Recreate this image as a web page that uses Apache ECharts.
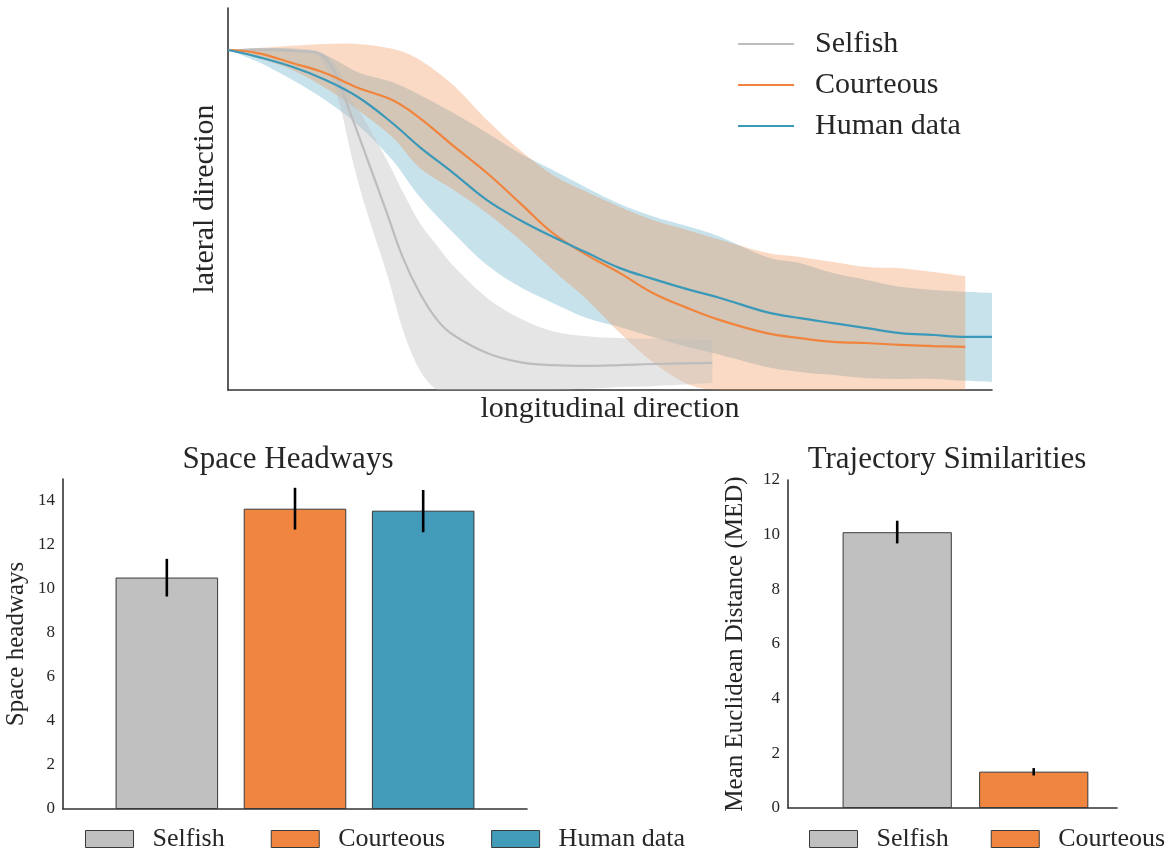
<!DOCTYPE html>
<html>
<head>
<meta charset="utf-8">
<title>Lane-change trajectories, space headways and trajectory similarities</title>
<script src="https://cdn.jsdelivr.net/npm/echarts@6/dist/echarts.min.js"></script>
<style>
  html, body { margin: 0; padding: 0; background: #ffffff; }
  #chart { width: 1169px; height: 854px; }
</style>
</head>
<body>
<div id="chart"></div>
<script>
// Driver types shown in every panel
const seriesNames = ['Selfish', 'Courteous', 'Human data'];

// Mean lateral offset (0-100) along the longitudinal position (0-100), with upper / lower spread
const selfishX     = [0, 5.5, 9.4, 11.8, 13.6, 14.9, 16.2, 17.9, 20.8, 22.9, 25.1, 27.4, 29.5, 33.9, 38.2, 42.5, 47.0, 51.3, 55.6, 63.4];
const selfishMean  = [89.0, 89.0, 88.7, 88.2, 84.6, 78.5, 71.5, 62.3, 46.3, 34.6, 25.4, 18.3, 14.4, 9.7, 7.3, 6.5, 6.3, 6.5, 6.8, 7.1];
const selfishUpper = [89.0, 89.5, 89.3, 88.7, 86.4, 81.9, 76.2, 70.7, 60.2, 51.8, 43.7, 37.7, 32.5, 24.1, 18.8, 15.4, 14.1, 13.6, 13.4, 13.1];
const selfishLower = [89.0, 88.7, 88.2, 87.2, 81.2, 72.5, 61.0, 48.4, 30.4, 15.7, 5.2, -1.3, -3.1, -2.6, -1.8, -0.5, 0.3, 0.8, 1.0, 1.8];

const courteousX     = [0, 3.9, 8.4, 12.7, 17.0, 21.5, 25.1, 29.5, 33.9, 38.2, 42.5, 47.0, 51.3, 55.6, 60.1, 64.4, 70.5, 74.9, 79.2, 83.6, 88.0, 92.3, 96.5];
const courteousMean  = [89.0, 88.2, 85.6, 83.0, 79.1, 75.9, 71.2, 63.9, 56.8, 49.0, 41.1, 35.3, 30.6, 25.4, 21.5, 18.3, 14.9, 13.6, 12.6, 12.3, 11.8, 11.5, 11.3];
const courteousUpper = [89.0, 89.5, 90.1, 90.6, 90.6, 89.3, 86.4, 79.8, 70.7, 62.8, 56.3, 51.8, 47.9, 44.5, 41.9, 39.3, 35.9, 34.8, 33.5, 32.2, 31.9, 30.9, 29.8];
const courteousLower = [89.0, 86.9, 83.8, 79.1, 73.3, 66.2, 58.1, 52.4, 46.3, 39.3, 31.4, 23.6, 14.9, 7.3, 1.6, -2.6, -6.0, -7.6, -8.4, -8.0, -8.4, -7.9, -7.3];

const humanX     = [0, 3.9, 8.4, 12.7, 17.0, 21.5, 25.1, 29.5, 33.9, 38.2, 42.5, 47.0, 51.3, 55.6, 60.1, 64.4, 70.5, 74.9, 79.2, 83.6, 88.0, 92.3, 96.5, 100];
const humanMean  = [89.0, 87.2, 84.6, 81.2, 76.7, 69.9, 63.6, 56.8, 49.7, 44.5, 40.1, 35.9, 31.9, 29.1, 26.4, 24.1, 20.4, 18.8, 17.5, 16.2, 14.9, 14.4, 13.9, 13.9];
const humanUpper = [89.0, 89.5, 89.3, 87.7, 83.2, 80.6, 77.2, 72.5, 67.3, 62.0, 57.6, 52.9, 48.7, 45.5, 42.9, 40.1, 34.8, 33.2, 30.6, 28.8, 27.0, 26.2, 25.7, 25.4];
const humanLower = [89.0, 85.9, 81.2, 75.9, 69.4, 60.2, 50.5, 41.1, 32.7, 27.0, 22.8, 18.8, 16.5, 13.9, 11.3, 9.2, 6.0, 4.7, 3.9, 3.1, 2.9, 2.9, 2.4, 2.1];

// Space headways: mean and error-bar ends per driver type
const headwayMean = [10.52, 13.65, 13.56];
const headwayLow  = [9.66, 12.70, 12.58];
const headwayHigh = [11.37, 14.60, 14.50];

// Mean Euclidean distance to the human trajectories
const medNames = ['Selfish', 'Courteous'];
const medMean  = [10.09, 1.33];
const medLow   = [9.68, 1.19];
const medHigh  = [10.51, 1.46];

const LAT_MIN = 0, LAT_MAX = 100, LON_MIN = 0, LON_MAX = 100;

const FONT = 'Liberation Serif';
const INK = '#262626';
const AXIS = '#333333';
const lineColors = ['#bdbdbd', '#f0843c', '#3a98b9'];
const bandColors = ['rgba(190,190,190,0.40)', 'rgba(240,132,60,0.30)', 'rgba(58,152,185,0.28)'];
const barColors = ['#c0c0c0', '#f0853f', '#429cb9'];

function pairs(xs, ys) {
  return xs.map((x, i) => [x, ys[i]]);
}

// Catmull-Rom curve through pixel points, control points kept above the axis floor
function curveThrough(pts, floorY) {
  let d = '';
  for (let i = 0; i < pts.length - 1; i++) {
    const p0 = pts[Math.max(i - 1, 0)], p1 = pts[i], p2 = pts[i + 1], p3 = pts[Math.min(i + 2, pts.length - 1)];
    const c1x = p1[0] + (p2[0] - p0[0]) / 6, c1y = Math.min(p1[1] + (p2[1] - p0[1]) / 6, floorY);
    const c2x = p2[0] - (p3[0] - p1[0]) / 6, c2y = Math.min(p2[1] - (p3[1] - p1[1]) / 6, floorY);
    d += ' C' + c1x + ' ' + c1y + ' ' + c2x + ' ' + c2y + ' ' + p2[0] + ' ' + p2[1];
  }
  return d;
}

// Filled spread between the upper and lower bound, cut at the bottom of the axis
function bandRenderer(xs, upper, lower, fill) {
  return function (params, api) {
    const floorY = api.coord([LON_MIN, LAT_MIN])[1];
    const top = xs.map((x, i) => api.coord([x, upper[i]]));
    const bottom = xs.map((x, i) => api.coord([x, Math.max(lower[i], LAT_MIN)])).reverse();
    const d = 'M' + top[0][0] + ' ' + top[0][1] + curveThrough(top, floorY) +
      ' L' + bottom[0][0] + ' ' + bottom[0][1] + curveThrough(bottom, floorY) + ' Z';
    return { type: 'path', shape: { pathData: d }, style: { fill: fill }, silent: true };
  };
}

function errorBarRenderer(params, api) {
  const a = api.coord([api.value(0), api.value(1)]);
  const b = api.coord([api.value(0), api.value(2)]);
  return {
    type: 'line',
    shape: { x1: a[0], y1: a[1], x2: b[0], y2: b[1] },
    style: { stroke: '#000000', lineWidth: 2.6 },
    silent: true
  };
}

const axisLine = { show: true, onZero: false, lineStyle: { color: AXIS, width: 1.6 } };

function bareAxis(gridIndex, min, max) {
  return {
    type: 'value', gridIndex, min, max,
    axisLine, axisTick: { show: false }, axisLabel: { show: false }, splitLine: { show: false }
  };
}

function countAxis(gridIndex, max, name, nameGap, showMax) {
  return {
    type: 'value', gridIndex, min: 0, max, interval: 2,
    name, nameLocation: 'middle', nameGap, nameRotate: 90,
    nameTextStyle: { fontFamily: FONT, fontSize: 25, color: INK },
    axisLine, axisTick: { show: false }, splitLine: { show: false },
    axisLabel: { fontFamily: FONT, fontSize: 17, color: INK, margin: 8, showMaxLabel: showMax }
  };
}

const topX = bareAxis(0, LON_MIN, LON_MAX);
topX.name = 'longitudinal direction';
topX.nameLocation = 'middle';
topX.nameGap = 4;
topX.nameTextStyle = { fontFamily: FONT, fontSize: 30, color: INK, verticalAlign: 'top' };

const topY = bareAxis(0, LAT_MIN, LAT_MAX);
topY.name = 'lateral direction';
topY.nameLocation = 'middle';
topY.nameGap = 8;
topY.nameRotate = 90;
topY.nameTextStyle = { fontFamily: FONT, fontSize: 30, color: INK };

const trajectories = [
  { xs: selfishX, mean: selfishMean, upper: selfishUpper, lower: selfishLower },
  { xs: courteousX, mean: courteousMean, upper: courteousUpper, lower: courteousLower },
  { xs: humanX, mean: humanMean, upper: humanUpper, lower: humanLower }
];

const series = [];

// spreads: human first, courteous over it, selfish on top
[2, 1, 0].forEach(k => {
  const t = trajectories[k];
  series.push({
    name: seriesNames[k] + ' spread',
    type: 'custom', coordinateSystem: 'cartesian2d', xAxisIndex: 0, yAxisIndex: 0,
    data: [[LON_MIN, LAT_MIN]],
    renderItem: bandRenderer(t.xs, t.upper, t.lower, bandColors[k]),
    z: 1
  });
});

trajectories.forEach((t, k) => {
  series.push({
    name: seriesNames[k], type: 'line', xAxisIndex: 0, yAxisIndex: 0,
    data: pairs(t.xs, t.mean), smooth: 0.4, symbol: 'none', showSymbol: false,
    lineStyle: { color: lineColors[k], width: 2.2 }, itemStyle: { color: lineColors[k] },
    z: 3
  });
});

seriesNames.forEach((name, i) => {
  series.push({
    name, type: 'bar', xAxisIndex: 1, yAxisIndex: 1,
    data: [[i, headwayMean[i]]], barWidth: '80%', barGap: '-100%',
    itemStyle: { color: barColors[i], borderColor: '#3a3a3a', borderWidth: 1 }
  });
});
series.push({
  name: 'headway error', type: 'custom', coordinateSystem: 'cartesian2d', xAxisIndex: 1, yAxisIndex: 1,
  data: headwayLow.map((lo, i) => [i, lo, headwayHigh[i]]), encode: { x: 0, y: [1, 2] },
  renderItem: errorBarRenderer, z: 5
});

medNames.forEach((name, i) => {
  series.push({
    name, type: 'bar', xAxisIndex: 2, yAxisIndex: 2,
    data: [[i, medMean[i]]], barWidth: '80%', barGap: '-100%',
    itemStyle: { color: barColors[i], borderColor: '#3a3a3a', borderWidth: 1 }
  });
});
series.push({
  name: 'distance error', type: 'custom', coordinateSystem: 'cartesian2d', xAxisIndex: 2, yAxisIndex: 2,
  data: medLow.map((lo, i) => [i, lo, medHigh[i]]), encode: { x: 0, y: [1, 2] },
  renderItem: errorBarRenderer, z: 5
});

function boxLegend(names, left, gap) {
  return {
    left, top: 826, orient: 'horizontal', padding: 0, itemGap: gap,
    itemWidth: 48, itemHeight: 17, selectedMode: false,
    textStyle: { fontFamily: FONT, fontSize: 26, color: INK, padding: [0, 0, 0, 14] },
    data: names.map((n, i) => ({
      name: n, icon: 'rect',
      itemStyle: { color: barColors[i], borderColor: '#3a3a3a', borderWidth: 1 }
    }))
  };
}

const option = {
  animation: false,
  backgroundColor: '#ffffff',
  textStyle: { fontFamily: FONT, color: INK },
  grid: [
    { left: 228, top: 8, width: 764, height: 382, outerBoundsMode: 'none' },
    { left: 63, top: 479, width: 464, height: 330, outerBoundsMode: 'none' },
    { left: 788, top: 480, width: 329, height: 328, outerBoundsMode: 'none' }
  ],
  xAxis: [
    topX,
    bareAxis(1, -0.81, 2.81),
    bareAxis(2, -0.80, 1.61)
  ],
  yAxis: [
    topY,
    countAxis(1, 15, 'Space headways', 34, false),
    countAxis(2, 12, 'Mean Euclidean Distance (MED)', 40, true)
  ],
  legend: [
    {
      left: 738, top: 29, orient: 'vertical', padding: 0, itemGap: 11,
      itemWidth: 56, itemHeight: 2.2, selectedMode: false,
      textStyle: { fontFamily: FONT, fontSize: 30, color: INK, padding: [0, 0, 0, 16] },
      data: seriesNames.map((n, i) => ({
        name: n, icon: 'rect', itemStyle: { color: lineColors[i], borderWidth: 0 }
      }))
    },
    boxLegend(seriesNames, 85, 46),
    boxLegend(medNames, 809, 42)
  ],
  graphic: [
    { type: 'text', x: 288, y: 460, silent: true,
      style: { text: 'Space Headways', fontFamily: FONT, fontSize: 31, fill: INK, textAlign: 'center', textVerticalAlign: 'middle' } },
    { type: 'text', x: 947, y: 460, silent: true,
      style: { text: 'Trajectory Similarities', fontFamily: FONT, fontSize: 31, fill: INK, textAlign: 'center', textVerticalAlign: 'middle' } }
  ],
  series
};

const chart = echarts.init(document.getElementById('chart'), null, { renderer: 'canvas' });
chart.setOption(option);
</script>
</body>
</html>
